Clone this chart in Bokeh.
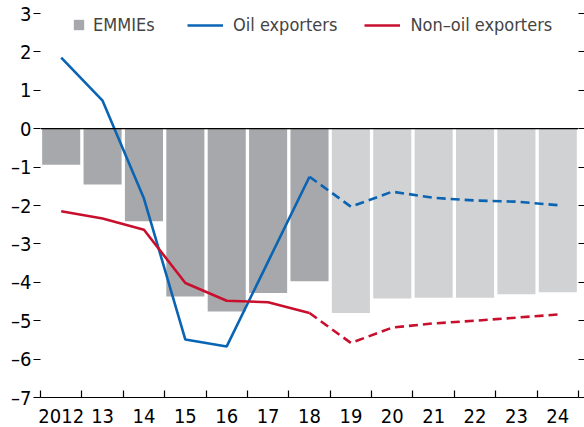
from bokeh.plotting import figure
from bokeh.models import (FixedTicker, LinearAxis, Span, Legend, LegendItem, Range1d)
from bokeh.embed import file_html
from bokeh.resources import INLINE

years = ["2012", "13", "14", "15", "16", "17", "18", "19", "20", "21", "22", "23", "24"]
emmies = [-0.94, -1.45, -2.41, -4.37, -4.76, -4.28, -3.97, -4.80, -4.42, -4.40, -4.40, -4.31, -4.26]
oil = [1.85, 0.73, -1.82, -5.49, -5.67, -3.46, -1.25, -2.03, -1.64, -1.80, -1.87, -1.90, -1.99]
nonoil = [-2.15, -2.34, -2.63, -4.02, -4.48, -4.52, -4.80, -5.58, -5.18, -5.07, -5.00, -4.92, -4.84]
y_ticks = [-7, -6, -5, -4, -3, -2, -1, 0, 1, 2, 3]
n_actual = 7  # 2012-18 actual, 19-24 projections

FONT = "DejaVu Sans Condensed"
DARK = "#a7a8ab"
LIGHT = "#d1d2d4"
BLUE = "#0a64b4"
RED = "#c8102e"

n = len(years)
xc = [i + 0.5 for i in range(n)]

p = figure(width=584, height=427, output_backend="svg", toolbar_location=None,
           x_range=Range1d(0, n), y_range=Range1d(-7, 3),
           min_border_left=40, min_border_right=6, min_border_top=13, min_border_bottom=30)
p.outline_line_color = None
p.grid.visible = False
p.background_fill_color = None
p.border_fill_color = "white"

bars_a = p.vbar(x=xc[:n_actual], top=emmies[:n_actual], bottom=0, width=0.92,
                fill_color=DARK, line_color=None)
bars_p = p.vbar(x=xc[n_actual:], top=emmies[n_actual:], bottom=0, width=0.92,
                fill_color=LIGHT, line_color=None)

p.add_layout(Span(location=0, dimension="width", line_color="black", line_width=1.3))

oil_s = p.line(xc[:n_actual], oil[:n_actual], line_color=BLUE, line_width=2.6)
p.line(xc[n_actual - 1:], oil[n_actual - 1:], line_color=BLUE, line_width=2.6, line_dash="9 5")
non_s = p.line(xc[:n_actual], nonoil[:n_actual], line_color=RED, line_width=2.6)
p.line(xc[n_actual - 1:], nonoil[n_actual - 1:], line_color=RED, line_width=2.6, line_dash="9 5")

# x axis: labels at centers, ticks at boundaries (minor ticks)
xa = p.xaxis[0]
xa.ticker = FixedTicker(ticks=xc, minor_ticks=list(range(n + 1)))
xa.major_label_overrides = {x: lab for x, lab in zip(xc, years)}
xa.major_tick_line_color = None
xa.minor_tick_in = 7
xa.minor_tick_out = 0
xa.minor_tick_line_color = "black"
xa.minor_tick_line_width = 1.2
xa.axis_line_color = "black"
xa.axis_line_width = 1.2
xa.major_label_text_font = FONT
xa.major_label_text_font_size = "20px"
xa.major_label_text_color = "black"
xa.major_label_standoff = 5

def fmt(v):
    return str(v) if v >= 0 else "\u2013" + str(-v)

ya = p.yaxis[0]
ya.ticker = FixedTicker(ticks=y_ticks)
ya.major_label_overrides = {v: fmt(v) for v in y_ticks}
ya.axis_line_color = None
ya.major_tick_out = 7
ya.major_tick_in = 0
ya.major_tick_line_color = "black"
ya.major_tick_line_width = 1.2
ya.minor_tick_line_color = None
ya.major_label_text_font = FONT
ya.major_label_text_font_size = "20px"
ya.major_label_text_color = "black"
ya.major_label_standoff = 2

ra = LinearAxis(ticker=FixedTicker(ticks=y_ticks))
ra.major_label_overrides = {v: "" for v in y_ticks}
ra.axis_line_color = None
ra.major_tick_out = 6
ra.major_tick_in = 0
ra.major_tick_line_color = "black"
ra.major_tick_line_width = 1.2
ra.minor_tick_line_color = None
ra.major_label_text_font_size = "1px"
ra.major_label_standoff = 0
p.add_layout(ra, "right")

leg1 = Legend(items=[LegendItem(label="EMMIEs", renderers=[bars_a])],
              location=(32, 362), orientation="horizontal",
              glyph_width=13, glyph_height=13, label_standoff=8,
              padding=0, margin=0, border_line_color=None, background_fill_alpha=0,
              label_text_font=FONT, label_text_font_size="18px", label_height=20)
leg2 = Legend(items=[LegendItem(label="Oil exporters", renderers=[oil_s]),
                     LegendItem(label="Non\u2013oil exporters", renderers=[non_s])],
              location=(147, 362), orientation="horizontal", spacing=27,
              glyph_width=36, glyph_height=20, label_standoff=10,
              padding=0, margin=0, border_line_color=None, background_fill_alpha=0,
              label_text_font=FONT, label_text_font_size="18px", label_height=20)
p.add_layout(leg1, "center")
p.add_layout(leg2, "center")

open("out.html", "w").write(file_html(p, INLINE))
